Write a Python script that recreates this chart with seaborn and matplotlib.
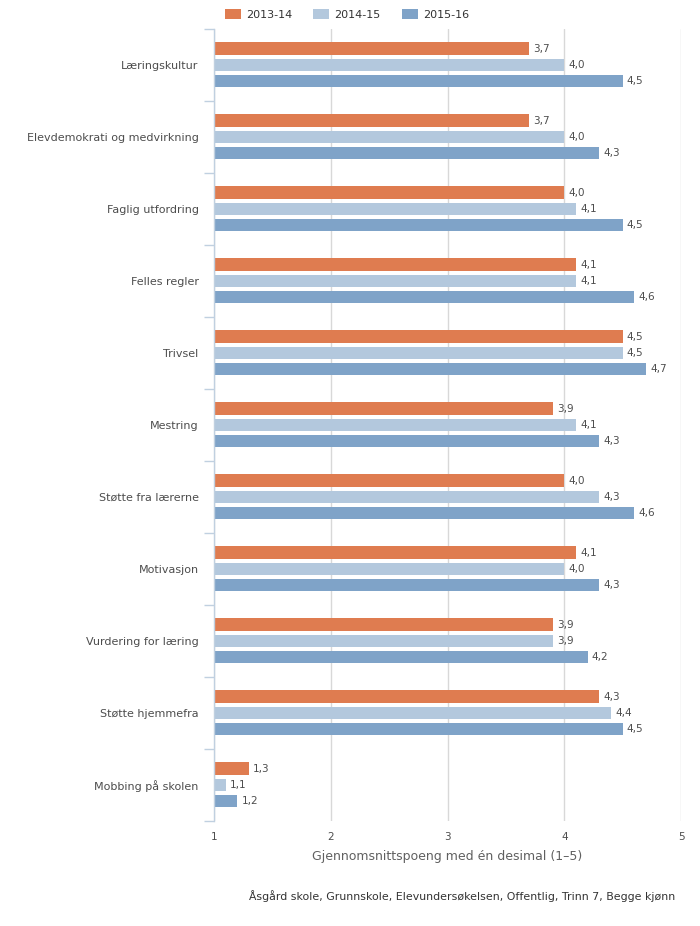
import numpy as np
import pandas as pd
import seaborn as sns
import matplotlib.pyplot as plt

# values
categories = ['Læringskultur', 'Elevdemokrati og medvirkning', 'Faglig utfordring',
              'Felles regler', 'Trivsel', 'Mestring', 'Støtte fra lærerne',
              'Motivasjon', 'Vurdering for læring', 'Støtte hjemmefra',
              'Mobbing på skolen']
years = ['2013-14', '2014-15', '2015-16']
v_2013 = [3.7, 3.7, 4.0, 4.1, 4.5, 3.9, 4.0, 4.1, 3.9, 4.3, 1.3]
v_2014 = [4.0, 4.0, 4.1, 4.1, 4.5, 4.1, 4.3, 4.0, 3.9, 4.4, 1.1]
v_2015 = [4.5, 4.3, 4.5, 4.6, 4.7, 4.3, 4.6, 4.3, 4.2, 4.5, 1.2]
colors = ['#DF7C50', '#B3C8DD', '#7FA3C8']

df = pd.DataFrame({
    'kategori': categories * 3,
    'aar': np.repeat(years, len(categories)),
    'verdi': v_2013 + v_2014 + v_2015,
})

sns.set_theme(style='white')
plt.rcParams['font.family'] = ['DejaVu Sans']
txt = '#4D4D4D'

fig = plt.figure(figsize=(7, 9.26), dpi=100)
ax = fig.add_axes([0.3057, 0.1134, 0.973 - 0.3057, 0.9687 - 0.1134])

sns.barplot(data=df, y='kategori', x='verdi', hue='aar', orient='h',
            palette=colors, width=0.667, gap=0.19, linewidth=0,
            saturation=1, ax=ax, legend=True)

for cont in ax.containers:
    ax.bar_label(cont, labels=[f'{b.get_width():.1f}'.replace('.', ',') for b in cont],
                 padding=3, fontsize=7.5, color=txt)

ax.set_xlim(1, 5)
ax.set_ylim(len(categories) - 0.5, -0.5)
ax.set_xticks([1, 2, 3, 4, 5])
ax.set_xticklabels(['1', '2', '3', '4', '5'], fontsize=7.5, color=txt)
ax.grid(axis='x', color='#D8D8D8', linewidth=1)
ax.set_axisbelow(True)

ax.set_yticks(range(len(categories)))
ax.set_yticklabels(categories, fontsize=8, color=txt)
ax.set_yticks(np.arange(-0.5, len(categories), 1), minor=True)
ax.tick_params(axis='y', which='major', length=0, pad=11)
ax.tick_params(axis='y', which='minor', length=7, width=1, color='#C0D0E0', left=True)
ax.tick_params(axis='x', length=0, pad=8)

for s in ['top', 'right', 'bottom']:
    ax.spines[s].set_visible(False)
ax.spines['left'].set_color('#C0D0E0')
ax.spines['left'].set_linewidth(1)

ax.set_ylabel('')
ax.set_xlabel('Gjennomsnittspoeng med én desimal (1–5)', fontsize=9, color='#606060', labelpad=6)

handles, labels = ax.get_legend_handles_labels()
ax.get_legend().remove()
fig.legend(handles, labels, loc='upper left', bbox_to_anchor=(0.307, 1.001), ncol=3,
           frameon=False, fontsize=8, handlelength=1.45, handleheight=1.0,
           columnspacing=1.9, handletextpad=0.45, labelcolor='#333333')

fig.text(0.965, 0.032, 'Åsgård skole, Grunnskole, Elevundersøkelsen, Offentlig, Trinn 7, Begge kjønn',
         ha='right', va='center', fontsize=7.9, color='#333333')

fig.savefig('out.png', dpi=100)
